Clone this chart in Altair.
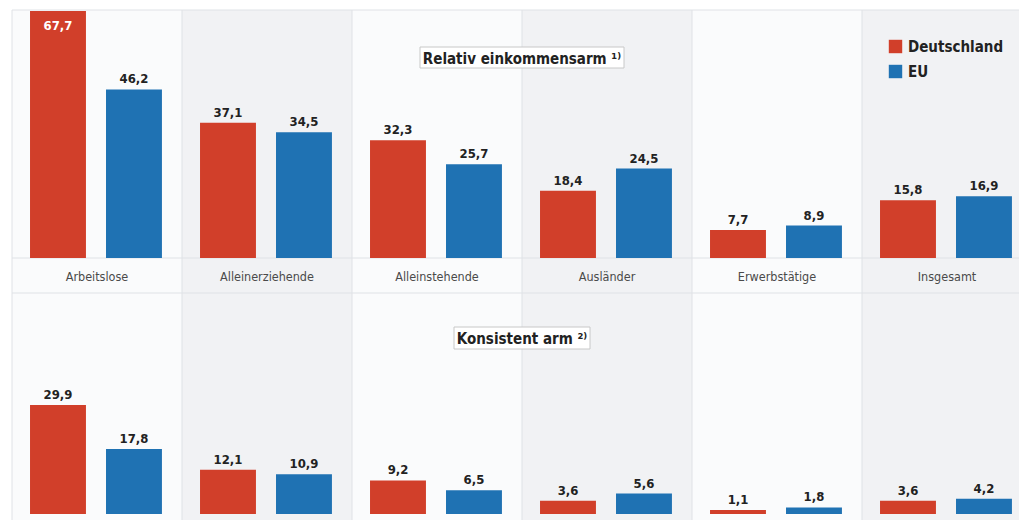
import altair as alt
import pandas as pd

# --- data -------------------------------------------------------------
categories = ["Arbeitslose", "Alleinerziehende", "Alleinstehende",
              "Ausländer", "Erwerbstätige", "Insgesamt"]
series = ["Deutschland", "EU"]
einkommensarm_de = [67.7, 37.1, 32.3, 18.4, 7.7, 15.8]
einkommensarm_eu = [46.2, 34.5, 25.7, 24.5, 8.9, 16.9]
konsistent_de = [29.9, 12.1, 9.2, 3.6, 1.1, 3.6]
konsistent_eu = [17.8, 10.9, 6.5, 5.6, 1.8, 4.2]
panel_titles = ["Relativ einkommensarm ¹⁾", "Konsistent arm ²⁾"]

# --- styling / layout -------------------------------------------------
W, H = 1019, 520
FONT = "Liberation Sans Narrow, DejaVu Sans Condensed, Roboto Condensed, sans-serif"
COLORS = ["#d13f2a", "#1f72b3"]
X_RANGE = [12, 1032]              # six equal columns
Y_DOMAIN = [0, 67.7]
ROW_RANGE = {"top": [258, 11], "bottom": [514, 267]}
BAR_SLOTS = {"Deutschland": (0.106, 0.435), "EU": (0.553, 0.882)}
BG_LIGHT, BG_DARK, GRID = "#fafbfc", "#f1f2f4", "#dfe2e6"
TITLE_BOX = [  # centre (in column units), half width, top, bottom (px)
    (3.0, 0.60, 47, 68),
    (3.0, 0.40, 327, 349),
]

xs = alt.Scale(domain=[0, 6], range=X_RANGE, nice=False, zero=False)


def fmt(v):
    return f"{v:.1f}".replace(".", ",")


rows = []
for row, de, eu in [("top", einkommensarm_de, einkommensarm_eu),
                    ("bottom", konsistent_de, konsistent_eu)]:
    for i, cat in enumerate(categories):
        for s, vals in zip(series, (de, eu)):
            a, b = BAR_SLOTS[s]
            v = vals[i]
            rows.append(dict(row=row, cat=cat, series=s, value=v,
                             x=i + a, x2=i + b, xc=i + (a + b) / 2,
                             label=fmt(v), inside=v >= 0.95 * Y_DOMAIN[1]))
bars_df = pd.DataFrame(rows)

cols_df = pd.DataFrame({"cat": categories,
                        "x": list(range(6)),
                        "x2": [i + 1 for i in range(6)],
                        "xc": [i + 0.5 for i in range(6)],
                        "shade": [i % 2 for i in range(6)]})
sep_df = pd.DataFrame({"x": list(range(7))})
titles_df = pd.DataFrame({"title": panel_titles,
                          "xc": [t[0] for t in TITLE_BOX],
                          "x1": [t[0] - t[1] for t in TITLE_BOX],
                          "x2": [t[0] + t[1] for t in TITLE_BOX],
                          "top": [t[2] for t in TITLE_BOX],
                          "bottom": [t[3] for t in TITLE_BOX]})

legend = alt.Legend(orient="none", legendX=888, legendY=39, title=None,
                    symbolType="square", symbolSize=180, symbolStrokeWidth=0,
                    labelFont=FONT, labelFontSize=15, labelFontWeight="bold",
                    labelColor="#222222", rowPadding=9, labelOffset=5)
color = alt.Color("series:N", scale=alt.Scale(domain=series, range=COLORS),
                  legend=legend)

# --- layers -----------------------------------------------------------
background = alt.Chart(cols_df).mark_rect().encode(
    x=alt.X("x:Q", scale=xs, axis=None), x2="x2:Q",
    y=alt.value(10), y2=alt.value(H),
    color=alt.condition("datum.shade == 1", alt.value(BG_DARK), alt.value(BG_LIGHT)),
)

separators = alt.Chart(sep_df).mark_rule(color=GRID, strokeWidth=1).encode(
    x=alt.X("x:Q", scale=xs, axis=None), y=alt.value(10), y2=alt.value(H),
)

hlines = alt.Chart(pd.DataFrame({"y": [10, 258, 293]})).mark_rule(
    color=GRID, strokeWidth=1).encode(
    x=alt.value(12), x2=alt.value(W), y=alt.Y("y:Q", scale=None),
)

cat_labels = alt.Chart(cols_df).mark_text(
    font=FONT, fontSize=12.5, color="#4a4a4a", baseline="middle").encode(
    x=alt.X("xc:Q", scale=xs, axis=None), y=alt.value(277), text="cat:N",
)


def row_layers(row):
    ys = alt.Scale(domain=Y_DOMAIN, range=ROW_RANGE[row], nice=False, zero=True)
    src = alt.Chart(bars_df).transform_filter(f"datum.row == '{row}'")
    bars = src.mark_bar().encode(
        x=alt.X("x:Q", scale=xs, axis=None), x2="x2:Q",
        y=alt.Y("value:Q", scale=ys, axis=None), y2=alt.datum(0),
        color=color,
    )
    above = src.transform_filter("!datum.inside").mark_text(
        font=FONT, fontSize=13, fontWeight="bold", color="#222222",
        baseline="bottom", dy=-3).encode(
        x=alt.X("xc:Q", scale=xs, axis=None),
        y=alt.Y("value:Q", scale=ys, axis=None), text="label:N",
    )
    inside = src.transform_filter("datum.inside").mark_text(
        font=FONT, fontSize=13, fontWeight="bold", color="white",
        baseline="top", dy=9).encode(
        x=alt.X("xc:Q", scale=xs, axis=None),
        y=alt.Y("value:Q", scale=ys, axis=None), text="label:N",
    )
    return [bars, above, inside]


title_boxes = alt.Chart(titles_df).mark_rect(
    fill="white", stroke="#c8c8c8", strokeWidth=1).encode(
    x=alt.X("x1:Q", scale=xs, axis=None), x2="x2:Q",
    y=alt.Y("top:Q", scale=None), y2="bottom:Q",
)
title_text = alt.Chart(titles_df).mark_text(
    font=FONT, fontSize=15, fontWeight="bold", color="#222222",
    baseline="middle").encode(
    x=alt.X("xc:Q", scale=xs, axis=None),
    y=alt.Y("mid:Q", scale=None), text="title:N",
).transform_calculate(mid="(datum.top + datum.bottom) / 2 + 1")

chart = alt.layer(
    background, separators, hlines, cat_labels,
    *row_layers("top"), *row_layers("bottom"),
    title_boxes, title_text,
).resolve_scale(y="independent").properties(
    width=W, height=H, padding=0,
    autosize=alt.AutoSizeParams(type="none"),
    background="white",
).configure_view(stroke=None)

chart.save("out.html", embed_options={"renderer": "svg", "actions": False})
